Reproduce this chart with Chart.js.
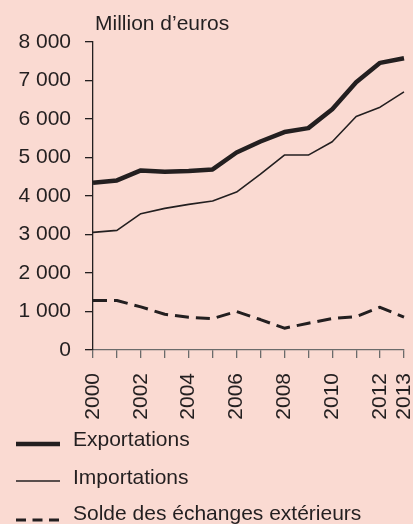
<!DOCTYPE html>
<html>
<head>
<meta charset="utf-8">
<script src="https://cdn.jsdelivr.net/npm/chart.js"></script>
<style>
    html, body { margin: 0; padding: 0; background: #fadad2; overflow: hidden; }
    canvas { display: block; }
</style>
</head>
<body>
<canvas id="chart" width="413" height="524"></canvas>
<script>
// Data
const years = ['2000', '2001', '2002', '2003', '2004', '2005', '2006', '2007', '2008', '2009', '2010', '2011', '2012', '2013'];
const exportations = [4345, 4405, 4665, 4630, 4648, 4690, 5130, 5415, 5660, 5763, 6256, 6955, 7458, 7580];
const importations = [3056, 3108, 3541, 3678, 3782, 3870, 4103, 4570, 5063, 5063, 5409, 6065, 6308, 6706];
const solde = [1284, 1284, 1120, 929, 851, 817, 999, 791, 566, 695, 817, 869, 1110, 851];
const labelledYears = ['2000', '2002', '2004', '2006', '2008', '2010', '2012', '2013'];
const seriesNames = ['Exportations', 'Importations', 'Solde des échanges extérieurs'];
const unitLabel = 'Million d’euros';

const INK = '#231f20';
const FONT = "'Liberation Sans', Arial, sans-serif";

// draws the unit label and the legend under the axis
const extras = {
    id: 'extras',
    afterDraw(chart) {
        const ctx = chart.ctx;
        ctx.save();
        ctx.fillStyle = INK;
        ctx.font = '21px ' + FONT;
        ctx.textBaseline = 'alphabetic';
        ctx.fillText(unitLabel, 95, 30);

        const rows = [
            { lineY: 444, textY: 446 },
            { lineY: 481, textY: 484 },
            { lineY: 520, textY: 520 }
        ];
        chart.data.datasets.forEach((ds, i) => {
            const r = rows[i];
            ctx.strokeStyle = ds.borderColor;
            ctx.lineWidth = ds.borderWidth;
            ctx.setLineDash(ds.borderDash ? [10, 6.5] : []);
            ctx.beginPath();
            ctx.moveTo(16, r.lineY);
            ctx.lineTo(60, r.lineY);
            ctx.stroke();
            ctx.fillText(ds.label, 73, r.textY);
        });
        ctx.restore();
    }
};

new Chart(document.getElementById('chart'), {
    type: 'line',
    data: {
        labels: years,
        datasets: [
            { label: seriesNames[0], data: exportations, borderColor: INK, borderWidth: 4.5 },
            { label: seriesNames[1], data: importations, borderColor: INK, borderWidth: 1.6 },
            { label: seriesNames[2], data: solde, borderColor: INK, borderWidth: 3, borderDash: [14, 7] }
        ]
    },
    options: {
        responsive: false,
        animation: false,
        devicePixelRatio: 1,
        layout: { padding: { left: 18, right: 0, top: 42, bottom: 104 } },
        elements: {
            point: { radius: 0 },
            line: { tension: 0, borderJoinStyle: 'round', borderCapStyle: 'butt', fill: false }
        },
        plugins: {
            legend: { display: false },
            tooltip: { enabled: false }
        },
        scales: {
            x: {
                grid: { drawOnChartArea: false, drawTicks: true, tickLength: 8, color: '#6b6b6b', lineWidth: 1.3 },
                border: { display: true, color: '#6b6b6b', width: 1.3 },
                ticks: {
                    autoSkip: false,
                    maxRotation: 90,
                    minRotation: 90,
                    padding: 15,
                    color: INK,
                    font: { family: FONT, size: 21 },
                    callback(value) {
                        const y = this.getLabelForValue(value);
                        return labelledYears.includes(y) ? y : '';
                    }
                },
                afterFit(scale) {
                    scale.height = 70;
                    scale.paddingRight = 9;
                    scale.paddingLeft = 0;
                }
            },
            y: {
                min: 0,
                max: 8000,
                grid: { drawOnChartArea: false, drawTicks: true, tickLength: 8, color: INK, lineWidth: 1.3 },
                border: { display: true, color: INK, width: 1.3 },
                ticks: {
                    stepSize: 1000,
                    padding: 14,
                    color: INK,
                    font: { family: FONT, size: 21 },
                    callback: v => String(v).replace(/\B(?=(\d{3})+(?!\d))/g, ' ')
                },
                afterFit(scale) {
                    scale.width = 75;
                }
            }
        }
    },
    plugins: [extras]
});
</script>
</body>
</html>
